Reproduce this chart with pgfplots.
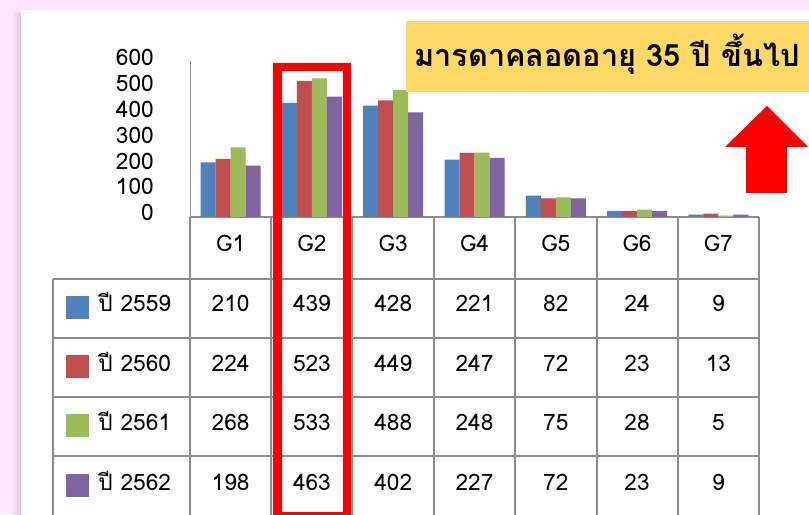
\documentclass[border=0pt]{standalone}
\usepackage{pgfplots}
\pgfplotsset{compat=1.18}
\usepackage{fontspec}
\setmainfont[Script=Thai]{Loma}
\definecolor{bgpink}{RGB}{253,229,253}
\definecolor{shadowc}{RGB}{226,196,226}
\definecolor{gridgrey}{RGB}{140,140,140}
\definecolor{s1}{RGB}{79,129,189}
\definecolor{s2}{RGB}{192,80,77}
\definecolor{s3}{RGB}{155,187,89}
\definecolor{s4}{RGB}{128,100,162}
\definecolor{gold}{RGB}{255,217,102}
\newcommand{\tf}{\fontsize{17}{20}\selectfont}
\begin{document}
\begin{tikzpicture}
\useasboundingbox (0,0) rectangle (606.75pt,385.5pt);
\begin{scope}[x=0.75pt,y=0.75pt]
\fill[bgpink] (0,0) rectangle (809,514);
\shade[left color=bgpink, right color=shadowc] (12,0) rectangle (21,500);
\fill[white] (21,0) rectangle (809,504);
\end{scope}
\begin{axis}[
  at={(142.5pt,222.75pt)}, anchor=south west,
  width=426.75pt, height=117pt, scale only axis,
  xmin=0, xmax=7, ymin=0, ymax=600,
  axis x line=bottom, axis y line=left,
  axis line style={-, draw=gridgrey},
  x axis line style={line width=1pt},
  y axis line style={line width=0.7pt},
  ytick={0,100,200,300,400,500,600},
  xtick={0.5,1.5,2.5,3.5,4.5,5.5,6.5},
  xticklabels={G1,G2,G3,G4,G5,G6,G7},
  major tick length=0pt,
  ybar=0pt, bar width=11.25pt,
  tick label style={font=\tf},
  /pgf/number format/assume math mode=true,
  yticklabel style={anchor=base east, inner sep=0pt, xshift=-27pt, yshift=-3pt},
  xticklabel style={anchor=base, inner sep=0pt, yshift=-26.25pt},
  clip=false,
]
\addplot[fill=s1, draw=none] coordinates {(0.5,210) (1.5,439) (2.5,428) (3.5,221) (4.5,82) (5.5,24) (6.5,9)};
\addplot[fill=s2, draw=none] coordinates {(0.5,224) (1.5,523) (2.5,449) (3.5,247) (4.5,72) (5.5,23) (6.5,13)};
\addplot[fill=s3, draw=none] coordinates {(0.5,268) (1.5,533) (2.5,488) (3.5,248) (4.5,75) (5.5,28) (6.5,5)};
\addplot[fill=s4, draw=none] coordinates {(0.5,198) (1.5,463) (2.5,402) (3.5,227) (4.5,72) (5.5,23) (6.5,9)};
\end{axis}
\begin{scope}[x=0.75pt,y=0.75pt]
% table grid
\foreach \xx in {190,271,352,434,515,597,678,759} \draw[gridgrey, line width=1pt] (\xx,297) -- (\xx,-5);
\draw[gridgrey, line width=1pt] (53,235) -- (53,-5);
\foreach \yy in {235,176,117,58} \draw[gridgrey, line width=1pt] (53,\yy) -- (759,\yy);
% values
\foreach \v [count=\i] in {210,439,428,221,82,24,9} \node[anchor=base, inner sep=0pt, font=\tf] at ({190+(\i-0.5)*81.286},202.5) {\v};
\foreach \v [count=\i] in {224,523,449,247,72,23,13} \node[anchor=base, inner sep=0pt, font=\tf] at ({190+(\i-0.5)*81.286},143) {\v};
\foreach \v [count=\i] in {268,533,488,248,75,28,5} \node[anchor=base, inner sep=0pt, font=\tf] at ({190+(\i-0.5)*81.286},83.5) {\v};
\foreach \v [count=\i] in {198,463,402,227,72,23,9} \node[anchor=base, inner sep=0pt, font=\tf] at ({190+(\i-0.5)*81.286},24) {\v};
% legend
\fill[s1] (66,195) rectangle (89,218);
\fill[s2] (66,136) rectangle (89,159);
\fill[s3] (66,77) rectangle (89,100);
\fill[s4] (66,17) rectangle (89,40);
\node[anchor=base west, inner sep=0pt, font=\tf] at (98,202.5) {ปี\hspace{0.35em}2559};
\node[anchor=base west, inner sep=0pt, font=\tf] at (98,143) {ปี\hspace{0.35em}2560};
\node[anchor=base west, inner sep=0pt, font=\tf] at (98,83.5) {ปี\hspace{0.35em}2561};
\node[anchor=base west, inner sep=0pt, font=\tf] at (98,24) {ปี\hspace{0.35em}2562};
% red highlight
\draw[red, line width=6.4pt] (277.5,447) rectangle (347,-2);
% title box
\fill[gold] (406,493) rectangle (815,422);
\node[anchor=base west, inner sep=0pt, font=\fontsize{23}{27}\selectfont\bfseries] at (414,447) {มารดาคลอดอายุ 35 ปี ขึ้นไป};
% arrow
\fill[red] (767,408) -- (808,367) -- (787,367) -- (787,321) -- (746,321) -- (746,367) -- (725,367) -- cycle;
\end{scope}
\end{tikzpicture}
\end{document}
